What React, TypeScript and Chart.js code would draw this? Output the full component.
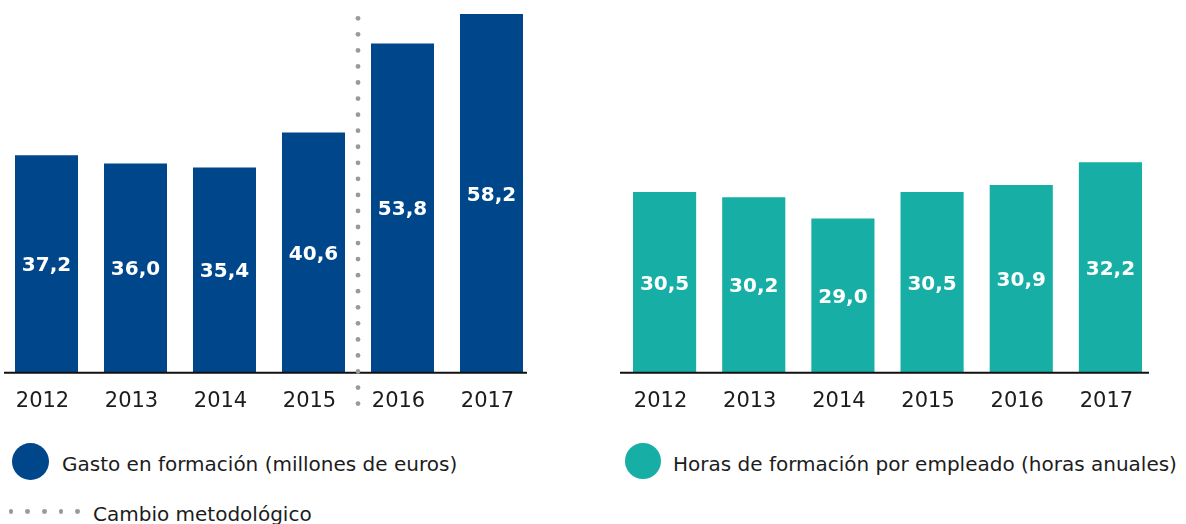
import React, { useEffect, useRef } from "react";
import { Chart, registerables } from "chart.js";

Chart.register(...registerables);

// ---- data ----
const years = ["2012", "2013", "2014", "2015", "2016", "2017"];
const gastoValues = [37.2, 36.0, 35.4, 40.6, 53.8, 58.2];
const horasValues = [30.5, 30.2, 29.0, 30.5, 30.9, 32.2];
const gastoLabel = "Gasto en formación (millones de euros)";
const horasLabel = "Horas de formación por empleado (horas anuales)";
const cambioLabel = "Cambio metodológico";
const cambioAfterIndex = 3; // change of methodology between 2015 and 2016

// ---- styles ----
const BLUE = "#00468a";
const TEAL = "#17afa5";
const GREY = "#9a9a9a";
const TEXT = "#1c1c1c";
const FONT = "'DejaVu Sans', sans-serif";
const CANVAS_H = 430;

const fmt = (v: number) => v.toFixed(1).replace(".", ",");

const valueLabelsPlugin = {
  id: "valueLabels",
  afterDatasetsDraw(chart: any) {
    const { ctx, chartArea } = chart;
    ctx.save();
    ctx.font = `bold 20px ${FONT}`;
    ctx.fillStyle = "#ffffff";
    ctx.textAlign = "center";
    ctx.textBaseline = "middle";
    chart.data.datasets.forEach((ds: any, di: number) => {
      const meta = chart.getDatasetMeta(di);
      meta.data.forEach((el: any, i: number) => {
        const p = el.getProps(["x", "y", "base"], true);
        const base = Math.min(p.base, chartArea.bottom);
        const top = Math.max(p.y, chartArea.top);
        ctx.fillText(fmt(ds.data[i]), p.x, (top + base) / 2 + 2);
      });
    });
    ctx.restore();
  },
};

const baselinePlugin = {
  id: "baseline",
  afterDatasetsDraw(chart: any, _args: any, opts: any) {
    const { ctx, chartArea } = chart;
    ctx.save();
    ctx.strokeStyle = "#111111";
    ctx.lineWidth = 2;
    ctx.beginPath();
    ctx.moveTo(chartArea.left + (opts.insetLeft || 0), chartArea.bottom);
    ctx.lineTo(chartArea.right - (opts.insetRight || 0), chartArea.bottom);
    ctx.stroke();
    ctx.restore();
  },
};

const dividerPlugin = {
  id: "divider",
  afterDatasetsDraw(chart: any, _args: any, opts: any) {
    if (opts.index == null) return;
    const meta = chart.getDatasetMeta(0);
    const a = meta.data[opts.index];
    const b = meta.data[opts.index + 1];
    if (!a || !b) return;
    const x = (a.x + b.x) / 2;
    const { ctx, chartArea } = chart;
    const y0 = chartArea.top + 4.3;
    const y1 = chartArea.bottom + 30.8;
    const n = 25;
    const step = (y1 - y0) / (n - 1);
    ctx.save();
    ctx.fillStyle = GREY;
    for (let k = 0; k < n; k++) {
      ctx.beginPath();
      ctx.arc(x, y0 + k * step, 2.4, 0, Math.PI * 2);
      ctx.fill();
    }
    ctx.restore();
  },
};

function makeConfig(
  values: number[],
  color: string,
  label: string,
  yMin: number,
  yMax: number,
  insetLeft: number,
  insetRight: number,
  dividerIndex: number | null
): any {
  return {
    type: "bar",
    data: {
      labels: years,
      datasets: [
        {
          label,
          data: values,
          backgroundColor: color,
          borderWidth: 0,
          categoryPercentage: 1,
          barPercentage: 0.708,
        },
      ],
    },
    options: {
      responsive: false,
      animation: false,
      layout: { padding: { top: 14, left: 0, right: 0, bottom: 0 } },
      plugins: {
        legend: { display: false },
        tooltip: { enabled: false },
        baseline: { insetLeft, insetRight },
        divider: { index: dividerIndex },
      },
      scales: {
        x: {
          grid: { display: false, drawTicks: false },
          border: { display: false },
          ticks: {
            color: TEXT,
            font: { family: FONT, size: 21 },
            padding: 16,
            labelOffset: -4,
            maxRotation: 0,
          },
        },
        y: { display: false, min: yMin, max: yMax },
      },
    },
    plugins: [valueLabelsPlugin, baselinePlugin, dividerPlugin],
  };
}

function BarChart(props: {
  values: number[];
  color: string;
  label: string;
  yMin: number;
  yMax: number;
  left: number;
  width: number;
  insetLeft: number;
  insetRight: number;
  dividerIndex: number | null;
}) {
  const ref = useRef<HTMLCanvasElement | null>(null);
  useEffect(() => {
    if (!ref.current) return;
    const chart = new Chart(
      ref.current,
      makeConfig(
        props.values,
        props.color,
        props.label,
        props.yMin,
        props.yMax,
        props.insetLeft,
        props.insetRight,
        props.dividerIndex
      )
    );
    return () => chart.destroy();
  }, []);
  return (
    <canvas
      ref={ref}
      width={props.width}
      height={CANVAS_H}
      style={{ position: "absolute", left: props.left, top: 0, width: props.width, height: CANVAS_H }}
    />
  );
}

const legendText: React.CSSProperties = {
  position: "absolute",
  fontFamily: FONT,
  fontSize: 20,
  lineHeight: "24px",
  color: TEXT,
  whiteSpace: "nowrap",
};

function Dot(props: { x: number; y: number; r: number; color: string }) {
  return (
    <div
      style={{
        position: "absolute",
        left: props.x - props.r,
        top: props.y - props.r,
        width: props.r * 2,
        height: props.r * 2,
        borderRadius: "50%",
        background: props.color,
      }}
    />
  );
}

export default function App() {
  return (
    <div
      style={{
        position: "fixed",
        left: 0,
        top: 0,
        width: 1186,
        height: 524,
        background: "#ffffff",
        overflow: "hidden",
      }}
    >
      <BarChart
        values={gastoValues}
        color={BLUE}
        label={gastoLabel}
        yMin={4.88}
        yMax={58.2}
        left={2}
        width={534}
        insetLeft={2}
        insetRight={9}
        dividerIndex={cambioAfterIndex}
      />
      <BarChart
        values={horasValues}
        color={TEAL}
        label={horasLabel}
        yMin={20.2}
        yMax={40.65}
        left={620}
        width={535}
        insetLeft={0}
        insetRight={6}
        dividerIndex={null}
      />
      <Dot x={30.5} y={461} r={18.5} color={BLUE} />
      <div style={{ ...legendText, left: 62, top: 451.5 }}>{gastoLabel}</div>
      <Dot x={642.5} y={461} r={18} color={TEAL} />
      <div style={{ ...legendText, left: 673, top: 452 }}>{horasLabel}</div>
      {[11, 27.7, 44.3, 61, 77.7].map((x, i) => (
        <Dot key={i} x={x} y={511.7} r={2.4} color={GREY} />
      ))}
      <div style={{ ...legendText, left: 93, top: 501.5 }}>{cambioLabel}</div>
    </div>
  );
}
